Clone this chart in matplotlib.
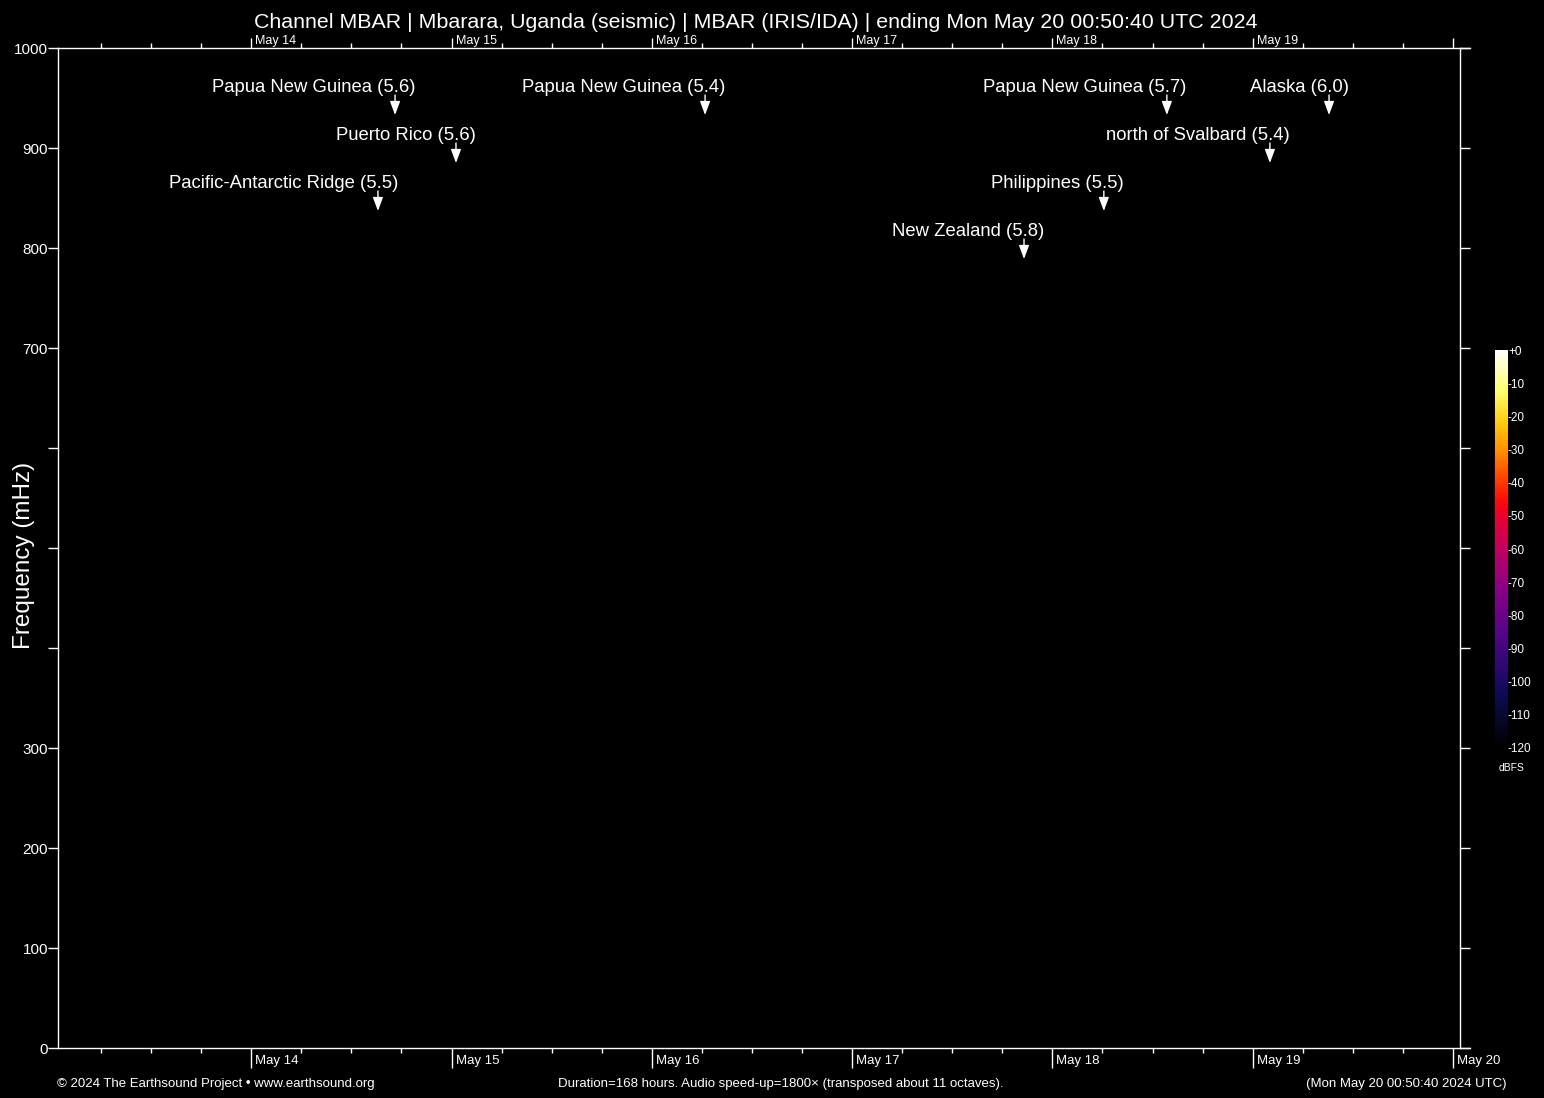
import datetime as dt
import matplotlib
matplotlib.use("Agg")
import matplotlib.pyplot as plt
import matplotlib.dates as mdates
from matplotlib.colors import LinearSegmentedColormap, Normalize
from matplotlib.cm import ScalarMappable

plt.rcParams['font.family'] = ['Liberation Sans', 'DejaVu Sans']

# Time window
END_TIME = dt.datetime(2024, 5, 20, 0, 50, 40)
DURATION_H = 168
START_TIME = END_TIME - dt.timedelta(hours=DURATION_H)

# Frequency axis (mHz)
FREQ_MAX = 1000
FREQ_TICKS = [0, 100, 200, 300, 400, 500, 600, 700, 800, 900, 1000]
FREQ_LABELS = ["0", "100", "200", "300", "", "", "", "700", "800", "900", "1000"]

# Earthquake events
event_names = ["Pacific-Antarctic Ridge", "Papua New Guinea", "Puerto Rico",
               "Papua New Guinea", "New Zealand", "Philippines",
               "Papua New Guinea", "north of Svalbard", "Alaska"]
event_mags = [5.5, 5.6, 5.6, 5.4, 5.8, 5.5, 5.7, 5.4, 6.0]
event_times = ["2024-05-14 15:11", "2024-05-14 17:14", "2024-05-15 00:32",
               "2024-05-16 06:23", "2024-05-17 20:36", "2024-05-18 06:10",
               "2024-05-18 13:43", "2024-05-19 02:04", "2024-05-19 09:09"]
event_rows = [2, 0, 1, 0, 3, 2, 0, 1, 0]

# Colour scale (dBFS)
DB_MIN, DB_MAX = -120, 0
cbar_ticks = list(range(-120, 1, 10))
cmap_colors = [(0.00, "#000000"), (0.08, "#08082e"), (0.13, "#0c0a52"),
               (0.20, "#2a0870"), (0.30, "#5a0488"), (0.40, "#8a0086"),
               (0.50, "#c00060"), (0.58, "#e80030"), (0.62, "#fa0a0a"),
               (0.67, "#ff3a00"), (0.75, "#ff9000"), (0.82, "#ffcc10"),
               (0.90, "#ffff70"), (1.00, "#ffffff")]

W, H = 1544, 1098
PX = 0.72  # points per pixel at dpi 100
fig = plt.figure(figsize=(W / 100, H / 100), dpi=100, facecolor='black')

# axes box in pixels: left 58, right 1460, top 48, bottom 1048
ax = fig.add_axes([58 / W, (H - 1048) / H, 1402 / W, 1000 / H])
ax.set_facecolor('black')
ax.set_xlim(START_TIME, END_TIME)
ax.set_ylim(0, FREQ_MAX)

for side in ['left', 'right', 'top', 'bottom']:
    ax.spines[side].set_color('white')
    ax.spines[side].set_linewidth(1)
# horizontal axis lines run a little past the right spine
ext = END_TIME + dt.timedelta(hours=1.2)
ax.spines['bottom'].set_bounds(mdates.date2num(START_TIME), mdates.date2num(ext))
ax.spines['top'].set_bounds(mdates.date2num(START_TIME), mdates.date2num(ext))

# y axis
ax.set_yticks(FREQ_TICKS)
ax.set_yticklabels(FREQ_LABELS)
ax.tick_params(axis='y', which='major', left=True, right=True, length=10 * PX,
               width=1, color='white', labelcolor='white', labelsize=11, pad=0)

# x axis: days (major) and 6-hour marks (minor)
ax.xaxis.set_major_locator(mdates.DayLocator())
ax.xaxis.set_minor_locator(mdates.HourLocator(byhour=[6, 12, 18]))
ax.xaxis.set_major_formatter(plt.NullFormatter())
ax.tick_params(axis='x', which='major', bottom=True, top=False, length=20 * PX,
               width=1, color='white')
ax.tick_params(axis='x', which='minor', bottom=True, top=False, length=5 * PX,
               width=1, color='white')

ax2 = ax.twiny()
ax2.set_xlim(ax.get_xlim())
ax2.xaxis.set_major_locator(mdates.DayLocator())
ax2.xaxis.set_minor_locator(mdates.HourLocator(byhour=[6, 12, 18]))
ax2.xaxis.set_major_formatter(plt.NullFormatter())
ax2.tick_params(axis='x', which='major', length=10 * PX, width=1, color='white')
ax2.tick_params(axis='x', which='minor', length=5 * PX, width=1, color='white')
for s in ax2.spines.values():
    s.set_visible(False)

# day labels sit beside the day ticks
day = dt.datetime(START_TIME.year, START_TIME.month, START_TIME.day) + dt.timedelta(days=1)
while day <= END_TIME:
    lbl = day.strftime("%b ") + str(day.day)
    ax.annotate(lbl, xy=(day, 0), xycoords=('data', 'axes fraction'),
                xytext=(4, -13), textcoords='offset pixels', ha='left',
                va='center', color='white', fontsize=9.5, annotation_clip=False)
    if day < END_TIME - dt.timedelta(hours=2):
        ax.annotate(lbl, xy=(day, 1), xycoords=('data', 'axes fraction'),
                    xytext=(4, 7), textcoords='offset pixels', ha='left',
                    va='center', color='white', fontsize=9, annotation_clip=False)
    day += dt.timedelta(days=1)

# events: label with a downward arrow
for name, mag, t, row in zip(event_names, event_mags, event_times, event_rows):
    tt = dt.datetime.strptime(t, "%Y-%m-%d %H:%M")
    text_y = 960 - 48 * row
    tail_y = 953 - 48 * row
    tip_y = 933 - 48 * row
    ax.annotate('', xy=(tt, tip_y), xytext=(tt, tail_y),
                arrowprops=dict(arrowstyle='-|>,head_length=0.75,head_width=0.28',
                                color='white', lw=1, shrinkA=0, shrinkB=0,
                                mutation_scale=11))
    ax.annotate(f"{name} ({mag:.1f})", xy=(tt, text_y), xytext=(20, 0),
                textcoords='offset pixels', ha='right', va='center',
                color='white', fontsize=13.3)

# titles and footer
fig.text(756 / W, 1 - 22 / H,
         "Channel MBAR | Mbarara, Uganda (seismic) | MBAR (IRIS/IDA) | ending "
         + END_TIME.strftime("%a %b ") + str(END_TIME.day)
         + END_TIME.strftime(" %H:%M:%S UTC %Y"),
         ha='center', va='center', color='white', fontsize=15.4)
fig.text(24 / W, 1 - 555 / H, "Frequency (mHz)", rotation=90, ha='center',
         va='center', color='white', fontsize=17.5)
fig.text(57 / W, 1 - 1084 / H, "\u00a9 2024 The Earthsound Project \u2022 www.earthsound.org",
         ha='left', va='center', color='white', fontsize=9.5)
fig.text(781 / W, 1 - 1084 / H,
         f"Duration={DURATION_H} hours. Audio speed-up=1800\u00d7 (transposed about 11 octaves).",
         ha='center', va='center', color='white', fontsize=9.5)
fig.text(1506 / W, 1 - 1084 / H,
         "(" + END_TIME.strftime("%a %b ") + str(END_TIME.day)
         + END_TIME.strftime(" %H:%M:%S %Y UTC") + ")",
         ha='right', va='center', color='white', fontsize=9.5)

# colour bar
cmap = LinearSegmentedColormap.from_list("earthsound", cmap_colors)
cax = fig.add_axes([1495 / W, (H - 748) / H, 13 / W, 398 / H])
cb = fig.colorbar(ScalarMappable(norm=Normalize(DB_MIN, DB_MAX), cmap=cmap), cax=cax)
cb.outline.set_visible(False)
cb.set_ticks(cbar_ticks)
cb.set_ticklabels(["+0" if v == 0 else str(v) for v in cbar_ticks])
cax.tick_params(length=0, pad=0, labelsize=8.5, labelcolor='white')
fig.text(1512 / W, 1 - 768 / H, "dBFS", ha='center', va='center',
         color='white', fontsize=7.5)

fig.savefig("out.png", dpi=100, facecolor='black')
